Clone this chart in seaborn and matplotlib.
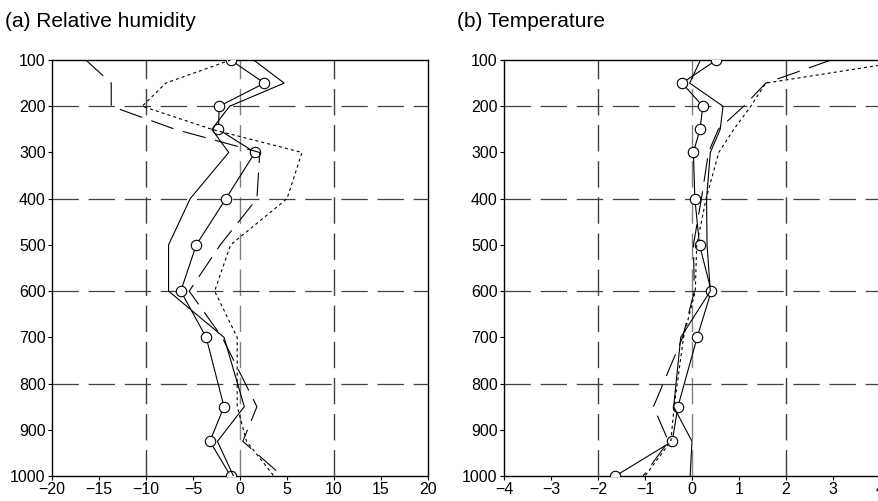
import numpy as np
import pandas as pd
import seaborn as sns
import matplotlib.pyplot as plt

# pressure levels (hPa)
levels = [100, 150, 200, 250, 300, 400, 500, 600, 700, 850, 925, 1000]

# (a) relative humidity differences
rh_circle = [-1.0, 2.6, -2.2, -2.3, 1.6, -1.5, -4.65, -6.3, -3.6, -1.7, -3.2, -1.0]
rh_solid = [1.45, 4.7, -1.1, -3.0, -1.2, -5.3, -7.6, -7.6, -1.7, 0.46, -2.4, -0.7]
rh_dash = [-16.4, -13.7, -13.7, -6.9, 2.1, 1.8, -2.1, -5.4, -1.9, 1.8, 0.3, 4.5]
rh_dot = [-1.0, -7.9, -10.4, -3.0, 6.6, 5.0, -1.0, -2.7, -0.3, -0.3, 0.7, 3.6]

# (b) temperature differences
t_circle = [0.52, -0.21, 0.23, 0.17, 0.03, 0.06, 0.16, 0.41, 0.11, -0.30, -0.42, -1.63]
t_solid = [0.18, -0.05, 0.66, 0.6, 0.39, 0.31, 0.32, 0.39, -0.24, -0.39, 0.0, -0.04]
t_dash = [2.96, 1.57, 1.1, 0.56, 0.35, 0.2, 0.03, 0.05, -0.2, -0.82, -0.5, -1.04]
t_dot = [4.7, 1.57, 1.25, 0.89, 0.57, 0.3, 0.1, 0.07, -0.18, -0.38, -0.45, -1.0]

sns.set_theme(style="white")
plt.rcParams['font.family'] = ['Liberation Sans', 'DejaVu Sans']
plt.rcParams['lines.scale_dashes'] = False

styles = {
    "circle": dict(linestyle="-", marker="o", markersize=7.5, markerfacecolor="white",
                   markeredgecolor="black", markeredgewidth=0.8),
    "solid": dict(linestyle="-"),
    "dash": dict(linestyle=(0, (17, 7))),
    "dot": dict(linestyle=(0, (2.2, 2.2))),
}


def make_df(circle, solid, dash, dot):
    frames = []
    for name, vals in [("circle", circle), ("solid", solid), ("dash", dash), ("dot", dot)]:
        frames.append(pd.DataFrame({"level": levels, "value": vals, "series": name}))
    return pd.concat(frames, ignore_index=True)


fig = plt.figure(figsize=(8.79, 5.01), dpi=100)
W, H = 879, 501
ax1 = fig.add_axes([52 / W, 25 / H, 376 / W, 416 / H])
ax2 = fig.add_axes([504 / W, 25 / H, 376 / W, 416 / H])


def draw(ax, df, xlim, xticks, vlines, title):
    for v in vlines:
        c = "0.5" if v == 0 else "0.25"
        ax.axvline(v, color=c, lw=1.0, linestyle=(0, (19, 7)), zorder=1)
    for h in [200, 400, 600, 800]:
        ax.axhline(h, color="0.25", lw=0.9, linestyle=(0, (19, 7)), zorder=1)
    for name, st in styles.items():
        sub = df[df.series == name]
        sns.lineplot(data=sub, x="value", y="level", sort=False, estimator=None,
                     orient="y", color="black", lw=0.8, ax=ax, zorder=3, **st)
    ax.set_xlim(*xlim)
    ax.set_ylim(1000, 100)
    ax.set_xticks(xticks)
    ax.set_yticks(range(100, 1001, 100))
    ax.set_xlabel("")
    ax.set_ylabel("")
    ax.tick_params(direction="out", length=3, width=0.8, labelsize=11.5, pad=1.5,
                   bottom=True, left=True, colors="black")
    for s in ax.spines.values():
        s.set_color("black")
        s.set_linewidth(1.0)
    ax.set_title(title, loc="left", x=-0.125, y=1.06, fontsize=15, color="black")


draw(ax1, make_df(rh_circle, rh_solid, rh_dash, rh_dot), (-20, 20),
     range(-20, 21, 5), [-10, 0, 10], "(a) Relative humidity")
draw(ax2, make_df(t_circle, t_solid, t_dash, t_dot), (-4, 4),
     range(-4, 5, 1), [-2, 0, 2], "(b) Temperature")
ax2.spines["right"].set_visible(False)

fig.savefig("out.png", dpi=100)
